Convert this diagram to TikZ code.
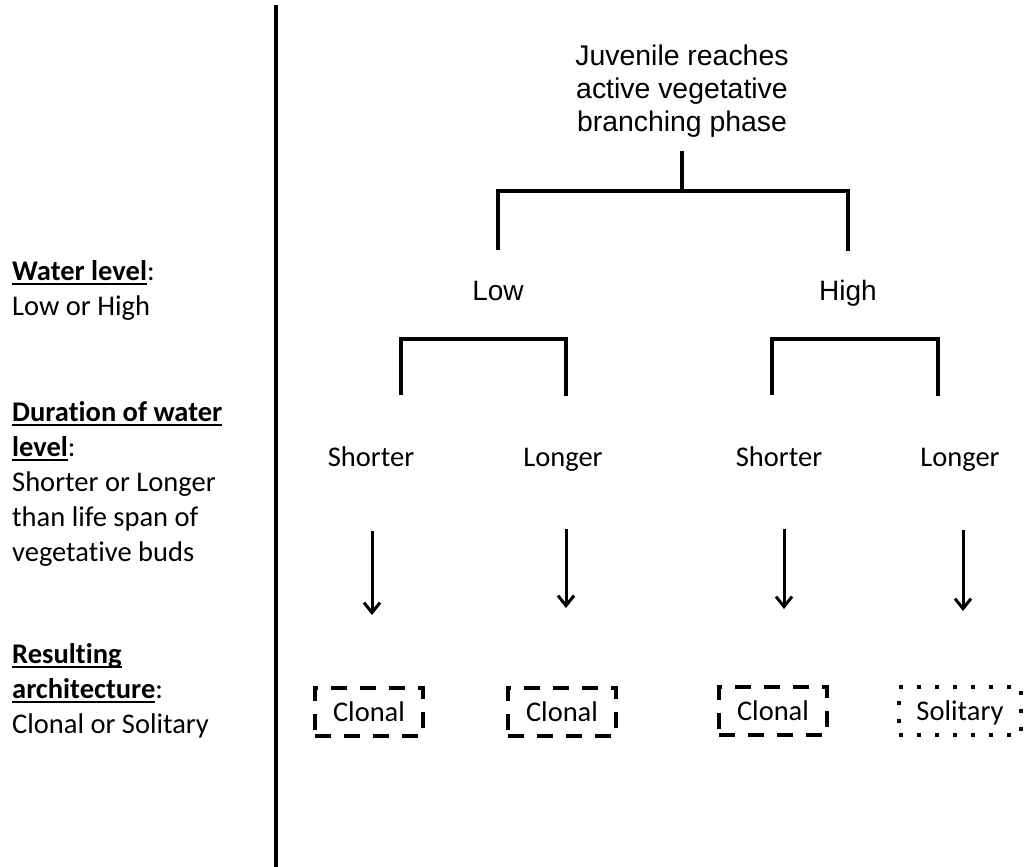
\documentclass[tikz,border=0pt]{standalone}
\usepackage{fontspec}
\setmainfont[Ligatures={NoCommon}]{Carlito}
\newfontfamily\arialfont{Liberation Sans}
\usetikzlibrary{arrows.meta}
\newcommand\myul[1]{\leavevmode\setbox0\hbox{#1}\rlap{\rule[-5pt]{\wd0}{2.4pt}}\box0}
\tikzset{
  line/.style={line width=3.2pt, line cap=rect},
  arr/.style={line width=3pt, -{Straight Barb[length=10pt,width=16pt,line width=3pt]}},
  sidetext/.style={anchor=north west, align=left, inner sep=0pt, font=\fontsize{28.5}{35}\selectfont},
  arialtext/.style={align=center, inner sep=0pt, font=\arialfont\fontsize{28.4}{33}\selectfont},
  arialword/.style={anchor=base, inner sep=0pt, font=\arialfont\fontsize{28}{33}\selectfont},
  calword/.style={anchor=base, inner sep=0pt, font=\fontsize{28.5}{33}\selectfont},
  dashbox/.style={draw, line width=4pt, dash pattern=on 16pt off 13pt, minimum width=108pt, minimum height=48pt, inner sep=0pt, text height=18pt, text depth=0pt, font=\fontsize{28.5}{30}\selectfont},
  dotbox/.style={draw, line width=4pt, dash pattern=on 4pt off 14pt, minimum width=122pt, minimum height=48pt, inner sep=0pt, text height=18pt, text depth=0pt, font=\fontsize{28.5}{30}\selectfont}
}
\begin{document}
\begin{tikzpicture}[x=1pt,y=-1pt]
\useasboundingbox (0,0) rectangle (1031,867);
% divider
\coordinate (divtop) at (276,5);
\coordinate (divbot) at (276,867);
\draw[line width=4pt] (divtop) -- (divbot);

% left legend
\node[sidetext] (wl) at (12,260) {\myul{\textbf{Water level}}:\\Low or High};
\node[sidetext] (dur) at (12,401) {\myul{\textbf{Duration of water}}\\\myul{\textbf{level}}:\\Shorter or Longer\\than life span of\\vegetative buds};
\node[sidetext] (res) at (12,643) {\myul{\textbf{Resulting}}\\\myul{\textbf{architecture}}:\\Clonal or Solitary};

% title
\node[arialtext] (title) at (682,91) {Juvenile reaches\\active vegetative\\branching phase};

% first split
\coordinate (t0) at (682,153);
\coordinate (t1) at (682,191);
\coordinate (tl) at (498,191);
\coordinate (tr) at (848,191);
\coordinate (tlb) at (498,248);
\coordinate (trb) at (848,249);
\draw[line] (t0) -- (t1);
\draw[line] (tlb) -- (tl) -- (tr) -- (trb);

\node[arialword] (low) at (498,300) {Low};
\node[arialword] (high) at (848,300) {High};

% second splits
\coordinate (la) at (401,393);
\coordinate (lat) at (401,339);
\coordinate (lbt) at (566,339);
\coordinate (lb) at (566,394);
\draw[line] (la) -- (lat) -- (lbt) -- (lb);
\coordinate (ha) at (772,393);
\coordinate (hat) at (772,339);
\coordinate (hbt) at (938,339);
\coordinate (hb) at (938,394);
\draw[line] (ha) -- (hat) -- (hbt) -- (hb);

\node[calword] (s1) at (371,466) {Shorter};
\node[calword] (l1) at (563,466) {Longer};
\node[calword] (s2) at (779,466) {Shorter};
\node[calword] (l2) at (960,466) {Longer};

% result boxes
\node[dashbox] (c1) at (369,712) {Clonal};
\node[dashbox] (c2) at (562,712) {Clonal};
\node[dashbox] (c3) at (773,711) {Clonal};
\node[dotbox] (sol) at (960,711) {Solitary};

% arrows
\coordinate (a1) at (372,531);
\coordinate (a1e) at (372,615);
\coordinate (a2) at (566,529);
\coordinate (a2e) at (566,608);
\coordinate (a3) at (784,529);
\coordinate (a3e) at (784,609);
\coordinate (a4) at (963,530);
\coordinate (a4e) at (963,611);
\draw[arr] (a1) -- (a1e);
\draw[arr] (a2) -- (a2e);
\draw[arr] (a3) -- (a3e);
\draw[arr] (a4) -- (a4e);
\end{tikzpicture}
\end{document}
